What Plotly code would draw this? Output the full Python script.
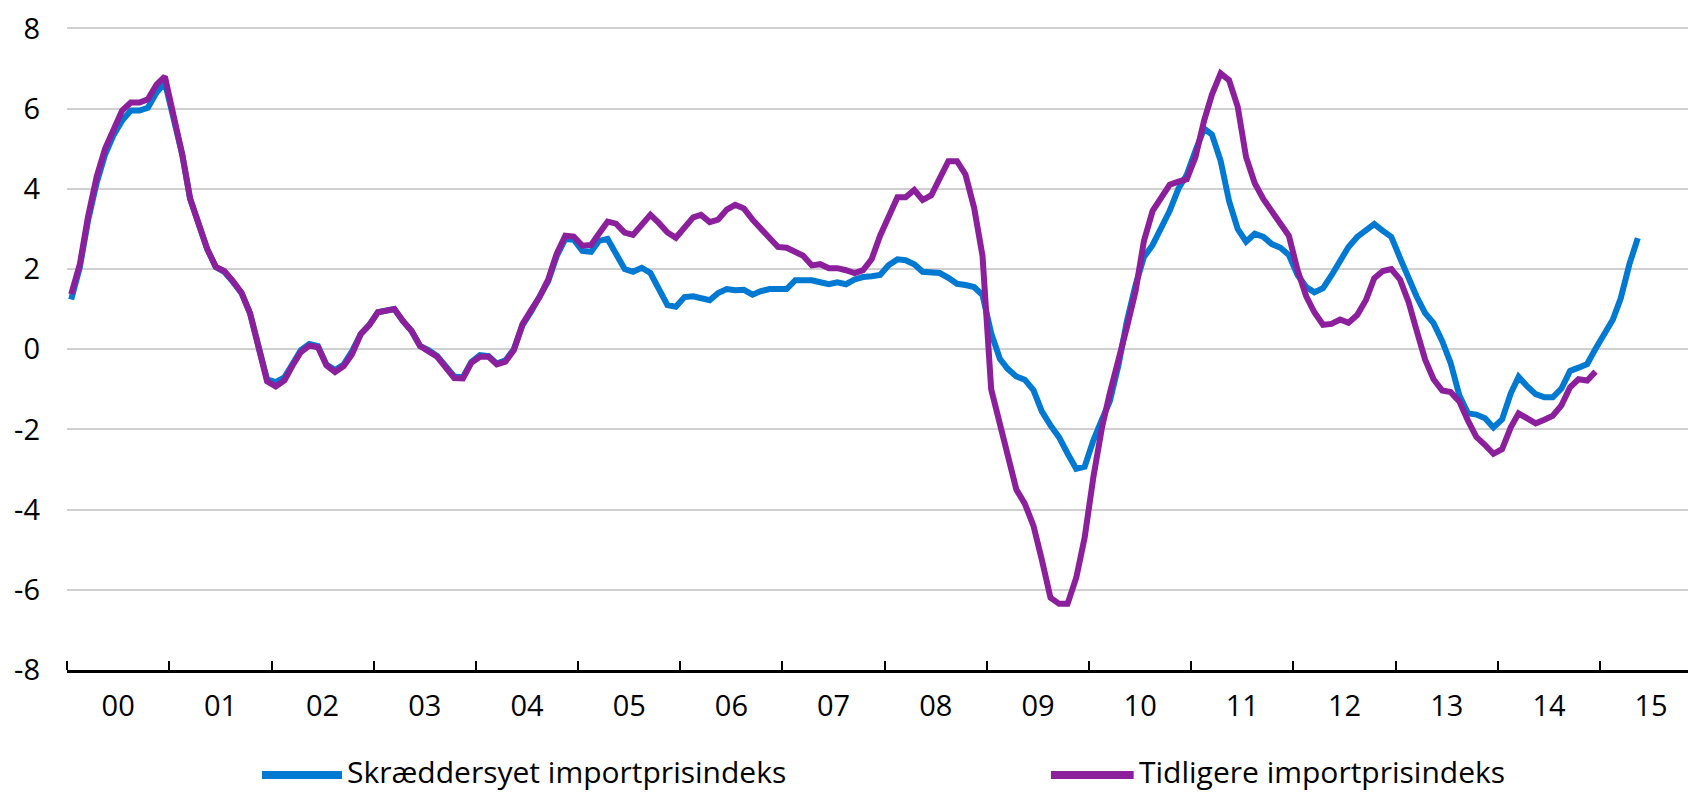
import plotly.graph_objects as go
import pandas as pd

# månedlige værdier, jan 2000 ->
skraeddersyet = [
    1.24, 2.05, 3.2, 4.15, 4.85, 5.35, 5.7, 5.95, 5.95, 6.02, 6.4, 6.65,        # 2000
    5.75, 4.85, 3.75, 3.1, 2.5, 2.05, 1.93, 1.68, 1.4, 0.9, 0.05, -0.75,        # 2001
    -0.82, -0.7, -0.38, -0.02, 0.13, 0.08, -0.38, -0.52, -0.38, -0.05, 0.38, 0.6,  # 2002
    0.92, 0.97, 1.0, 0.7, 0.46, 0.08, -0.02, -0.17, -0.43, -0.68, -0.7, -0.32,  # 2003
    -0.15, -0.17, -0.36, -0.28, 0.0, 0.6, 0.93, 1.28, 1.7, 2.32, 2.75, 2.73,    # 2004
    2.45, 2.43, 2.7, 2.75, 2.4, 2.0, 1.93, 2.03, 1.9, 1.5, 1.1, 1.06,           # 2005
    1.3, 1.32, 1.28, 1.22, 1.4, 1.5, 1.47, 1.48, 1.36, 1.45, 1.5, 1.49,         # 2006
    1.5, 1.72, 1.72, 1.72, 1.67, 1.62, 1.67, 1.62, 1.74, 1.8, 1.82, 1.85,       # 2007
    2.1, 2.24, 2.22, 2.12, 1.93, 1.93, 1.9, 1.78, 1.63, 1.6, 1.55, 1.35,        # 2008
    0.4, -0.24, -0.49, -0.68, -0.76, -1.02, -1.55, -1.9, -2.2, -2.6, -2.98, -2.93,  # 2009
    -2.28, -1.75, -1.3, -0.4, 0.7, 1.6, 2.3, 2.6, 3.0, 3.45, 4.0, 4.35,         # 2010
    4.95, 5.5, 5.35, 4.7, 3.7, 3.0, 2.68, 2.88, 2.8, 2.62, 2.53, 2.35,          # 2011
    1.85, 1.55, 1.42, 1.52, 1.84, 2.22, 2.55, 2.8, 2.98, 3.12, 2.95, 2.8,       # 2012
    2.28, 1.75, 1.32, 0.9, 0.65, 0.2, -0.34, -1.15, -1.6, -1.63, -1.72, -1.95,  # 2013
    -1.75, -1.1, -0.69, -0.93, -1.12, -1.2, -1.2, -0.98, -0.54, -0.46, -0.37, 0.01,  # 2014
    0.39, 0.74, 1.27, 2.12, 2.77,                                               # 2015
]

tidligere = [
    1.37, 2.12, 3.3, 4.3, 5.0, 5.5, 5.95, 6.15, 6.15, 6.23, 6.6, 6.8,           # 2000
    5.85, 4.85, 3.75, 3.1, 2.5, 2.05, 1.95, 1.7, 1.4, 0.9, 0.03, -0.8,          # 2001
    -0.93, -0.78, -0.42, -0.07, 0.09, 0.05, -0.4, -0.57, -0.42, -0.12, 0.38, 0.6,  # 2002
    0.92, 0.97, 1.0, 0.7, 0.46, 0.08, -0.04, -0.19, -0.46, -0.72, -0.73, -0.34,  # 2003
    -0.19, -0.19, -0.38, -0.31, -0.02, 0.63, 0.97, 1.3, 1.74, 2.38, 2.83, 2.81,  # 2004
    2.58, 2.6, 2.88, 3.18, 3.13, 2.91, 2.85, 3.08, 3.35, 3.15, 2.91, 2.78,      # 2005
    3.01, 3.29, 3.35, 3.17, 3.23, 3.48, 3.6, 3.51, 3.23, 3.01, 2.73, 2.55,      # 2006
    2.53, 2.41, 2.33, 2.09, 2.12, 2.02, 2.02, 1.97, 1.9, 1.97, 2.25, 2.83,      # 2007
    3.3, 3.79, 3.79, 3.97, 3.72, 3.84, 4.26, 4.69, 4.69, 4.36, 3.53, 2.33,      # 2008
    -1.0, -1.9, -2.7, -3.5, -3.85, -4.4, -5.25, -6.2, -6.35, -6.35, -5.7, -4.7,  # 2009
    -3.2, -1.95, -1.1, -0.3, 0.55, 1.45, 2.7, 3.45, 3.8, 4.1, 4.18, 4.24,       # 2010
    4.79, 5.7, 6.35, 6.88, 6.71, 6.05, 4.79, 4.14, 3.74, 3.43, 3.15, 2.83,      # 2011
    1.97, 1.32, 0.92, 0.61, 0.63, 0.74, 0.66, 0.85, 1.22, 1.77, 1.95, 2.0,      # 2012
    1.74, 1.17, 0.48, -0.26, -0.75, -1.03, -1.07, -1.3, -1.78, -2.19, -2.39, -2.61,  # 2013
    -2.49, -1.95, -1.6, -1.73, -1.85, -1.76, -1.66, -1.4, -0.95, -0.75, -0.78, -0.56,  # 2014
]

y_ticks = [-8, -6, -4, -2, 0, 2, 4, 6, 8]
y_ticktext = [str(v) for v in y_ticks]  # almindelig bindestreg, ikke minus-tegn

# midt i måneden, så punkterne ligger som i kategoriaksen
def maaneder(n):
    return pd.date_range("2000-01-01", periods=n, freq="MS") + pd.Timedelta(days=15)

BLAA = "#0079D2"
LILLA = "#8C1F9C"
FONT = "Open Sans"
FS = 29

fig = go.Figure()
fig.add_trace(go.Scatter(x=maaneder(len(skraeddersyet)), y=skraeddersyet, mode="lines",
                         name="Skræddersyet importprisindeks",
                         line=dict(color=BLAA, width=6)))
fig.add_trace(go.Scatter(x=maaneder(len(tidligere)), y=tidligere, mode="lines",
                         name="Tidligere importprisindeks",
                         line=dict(color=LILLA, width=6)))

# siden har 8px body-margin, så figuren gøres tilsvarende mindre
fig.update_layout(
    width=1688, height=785,
    margin=dict(l=59, r=0, t=12, b=123),
    plot_bgcolor="white", paper_bgcolor="white",
    font=dict(family=FONT, size=FS, color="black"),
    showlegend=False,
)

fig.update_xaxes(
    type="date",
    range=["2000-01-01", "2015-12-10"],
    dtick="M12", tick0="2000-01-01",
    tickformat="%y", ticklabelmode="period",
    ticks="inside", ticklen=9, tickwidth=2, tickcolor="black",
    showline=True, linecolor="black", linewidth=2.5,
    showgrid=False, ticklabelstandoff=8,
)
# lidt luft over 8, så den øverste gitterlinje ikke fjernes
fig.update_yaxes(
    range=[-8, 8.06], tickvals=y_ticks, ticktext=y_ticktext,
    showgrid=True, gridcolor="#D0D0D0", gridwidth=1.5,
    zeroline=False, showline=False, ticks="", ticklabelstandoff=26,
    ticklabeloverflow="allow",
)

# forklaring som i originalen (lange streger)
forklaring = [("Skræddersyet importprisindeks", BLAA, 0.1197, 0.1688),
              ("Tidligere importprisindeks", LILLA, 0.604, 0.6548)]
for tekst, farve, x0, x1 in forklaring:
    fig.add_shape(type="line", xref="paper", yref="paper", x0=x0, x1=x1, y0=-0.163, y1=-0.163,
                  line=dict(color=farve, width=8))
    fig.add_annotation(xref="paper", yref="paper", x=x1 + 0.002, y=-0.158, text=tekst,
                       showarrow=False, xanchor="left", yanchor="middle",
                       font=dict(family=FONT, size=30, color="black"))

fig.write_html("out.html")
